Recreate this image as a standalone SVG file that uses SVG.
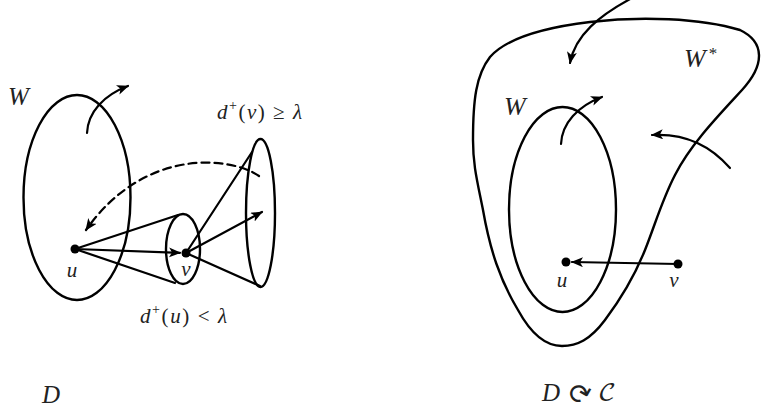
<svg xmlns="http://www.w3.org/2000/svg" width="763" height="414" viewBox="0 0 763 414">
<defs>
<marker id="ah" markerUnits="userSpaceOnUse" markerWidth="14" markerHeight="12" refX="11" refY="5" orient="auto">
<path d="M0,0 L12,5 L0,10 L3,5 Z" fill="#000"/>
</marker>
<style>
.ln{fill:none;stroke:#000;stroke-width:2.2;stroke-linecap:round}
.el{fill:none;stroke:#000;stroke-width:2.4}
.dot{fill:#000}
.m{font-family:"Liberation Serif","DejaVu Serif",serif;font-style:italic;fill:#222}
.r{font-style:normal}
</style>
</defs>
<rect width="763" height="414" fill="#fff"/>

<!-- LEFT DIAGRAM -->
<g id="W-left">
<ellipse class="el" cx="77" cy="197.5" rx="53.5" ry="102.5"/>
<text class="m" x="8" y="105" font-size="25">W</text>
</g>
<g id="cone-v">
<ellipse class="el" cx="183" cy="249" rx="17" ry="35"/>
</g>
<g id="cone-far">
<ellipse class="el" cx="260.5" cy="213" rx="14.5" ry="74"/>
</g>
<g id="u-left">
<circle class="dot" cx="75" cy="249" r="4.5"/>
<text class="m" x="72" y="277" font-size="21" text-anchor="middle">u</text>
</g>
<g id="v-left">
<circle class="dot" cx="186" cy="253" r="4.5"/>
<text class="m" x="186" y="276" font-size="21" text-anchor="middle">v</text>
</g>
<g id="labels-left">
<text class="m" x="217" y="119" font-size="21" textLength="85">d<tspan class="r" font-size="14" dy="-9">+</tspan><tspan class="r" dy="9">(</tspan>v<tspan class="r">) ≥ </tspan>λ</text>
<text class="m" x="140" y="323" font-size="21" textLength="87">d<tspan class="r" font-size="14" dy="-9">+</tspan><tspan class="r" dy="9">(</tspan>u<tspan class="r">) &lt; </tspan>λ</text>
<text class="m" x="42" y="403" font-size="25">D</text>
</g>
<g id="connectors-left">
<path class="ln" d="M87,133 C88,112 104,95 128,86" marker-end="url(#ah)"/>
<path class="ln" d="M75,249 L178,215"/>
<path class="ln" d="M75,249 L175,283"/>
<path class="ln" d="M75,249 L180,252.8" marker-end="url(#ah)"/>
<path class="ln" d="M186,253 L252,152"/>
<path class="ln" d="M186,253 L260,286"/>
<path class="ln" d="M186,253 L262,212" marker-end="url(#ah)"/>
<path class="ln" d="M259,176 C232,157 145,146 86,230" stroke-dasharray="8,5" marker-end="url(#ah)"/>
</g>

<!-- RIGHT DIAGRAM -->
<g id="W-star">
<path class="el" d="M473,140 C473,100 476,75 490,57 C505,40 540,28 590,22 C640,16 700,18 740,30 C765,42 765,65 742,90 C718,116 690,145 675,175 C662,200 655,225 645,250 C635,275 620,300 605,320 C590,340 577,346 562,346 C545,346 530,332 518,310 C500,280 490,250 483,210 C477,180 473,165 473,140 Z"/>
<text class="m" x="684" y="67" font-size="26">W<tspan class="r" font-size="17" dx="3" dy="-8">*</tspan></text>
</g>
<g id="W-right">
<ellipse class="el" cx="562.5" cy="209.5" rx="53.5" ry="102.5"/>
<text class="m" x="504" y="115" font-size="26">W</text>
</g>
<g id="u-right">
<circle class="dot" cx="566" cy="262" r="4.5"/>
<text class="m" x="562" y="287" font-size="21" text-anchor="middle">u</text>
</g>
<g id="v-right">
<circle class="dot" cx="678" cy="264" r="4.5"/>
<text class="m" x="674" y="287" font-size="21" text-anchor="middle">v</text>
</g>
<g id="label-right">
<text class="m" x="542" y="401" font-size="25">D</text>
<text x="0" y="0" font-family="DejaVu Sans,sans-serif" font-size="28" fill="#222" text-anchor="middle" dominant-baseline="central" transform="translate(578,393) rotate(120)">↻</text>
<text x="598" y="401" font-family="DejaVu Math TeX Gyre,Liberation Serif,serif" font-size="25" fill="#222">𝒞</text>
</g>
<g id="connectors-right">
<path class="ln" d="M561,144 C562,123 578,106 602,97" marker-end="url(#ah)"/>
<path class="ln" d="M632,-2 C600,15 575,35 570,63" marker-end="url(#ah)"/>
<path class="ln" d="M730,168 C710,145 685,133 652,135" marker-end="url(#ah)"/>
<path class="ln" d="M678,264 L572,262" marker-end="url(#ah)"/>
</g>
</svg>
